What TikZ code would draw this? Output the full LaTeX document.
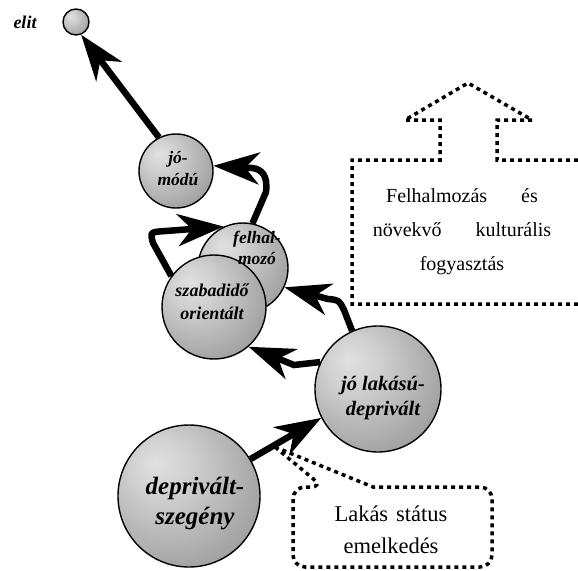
\documentclass[tikz,border=0pt]{standalone}
\usepackage{fontspec}
\setmainfont{Liberation Serif}
\usetikzlibrary{arrows.meta}
\pgfdeclareradialshading{globe}{\pgfpoint{-12bp}{12bp}}{%
  color(0bp)=(black!12); color(10bp)=(black!18); color(70bp)=(black!66)}
\newcommand\ballfont[2]{\fontsize{#1}{#2}\selectfont\bfseries\itshape}
\newcommand\notefont[2]{\fontsize{#1}{#2}\selectfont}
\tikzset{
  sphere/.style={circle, draw=black, line width=1.4pt, shading=globe, inner sep=0pt},
  fat/.style={line width=6.5pt, -{Stealth[length=46pt,width=32pt,inset=14pt]}},
  callout/.style={draw=black, line width=3.5pt, dash pattern=on 4pt off 4pt},
  note/.style={align=center, inner sep=0pt},
}

\begin{document}
\begin{tikzpicture}[x=1pt, y=-1pt, ballname/.style={align=center, inner sep=0pt}]
\useasboundingbox (0,0) rectangle (578,570);

% spheres, back to front
\node[sphere, minimum size=26pt] (elit) at (76,22) {};
\node[sphere, minimum size=74pt] (jomodu) at (176,171) {};
\node[sphere, minimum size=90pt] (felhal) at (243,268) {};
\node[sphere, minimum size=104pt] (szab) at (214,307) {};
\node[sphere, minimum size=126pt] (jolak) at (378,389) {};
\node[sphere, minimum size=142pt] (depriv) at (189,496) {};

% names
\node[ballname, font=\ballfont{18}{20}] (elittext) at (25,22) {elit};
\node[ballname, font=\ballfont{17.5}{22}] (jomodutext) at (178,169) {jó-\\módú};
\node[ballname, font=\ballfont{17.5}{21}] (felhaltext) at (257,248) {felhal-\\mozó};
\node[ballname, font=\ballfont{18}{23}] (szabtext) at (212,302) {szabadidő\\orientált};
\node[ballname, font=\ballfont{20.5}{25}] (jolaktext) at (383,398) {jó lakású-\\deprivált};
\node[ballname, font=\ballfont{25}{30}] (deprivtext) at (195,504) {deprivált-\\szegény};

% moves
\draw[fat] (jomodu.117) -- (elit.-68);
\draw[fat] (felhal.78) -- (266,192) .. controls (268,176) and (262,169) .. (252,168) -- (jomodu.8);
\draw[fat] (szab.144) -- (153,243) .. controls (150,232) .. (166,231) -- (felhal.115);
\draw[fat] (jolak.114) -- (344,310) .. controls (339,300) .. (328,299) -- (felhal.-25);
\draw[fat] (jolak.155) -- (294,365) -- (szab.-49);
\draw[fat] (depriv.31) -- (jolak.207);

% callouts
\draw[callout] (578,160) -- (497,160) -- (497,120) -- (532,120) -- (468,83) -- (405,120)
  -- (440,120) -- (440,160) -- (352,160) -- (352,304) -- (578,304);
\node[note, font=\notefont{20}{34}] (felnote) at (462,232)
  {Felhalmozás\hspace{34pt}és\\növekvő\hspace{34pt}kulturális\\fogyasztás};

\coordinate (lakastip) at (275,447);
\draw[callout] (lakastip) -- (373,487) [rounded corners=12pt] -- (492,487) -- (492,567)
  -- (293,567) -- (293,487) -- (323,487) [sharp corners] -- cycle;
\node[note, font=\notefont{22.5}{32}] (lakasnote) at (391,530) {Lakás\hspace{8pt}státus\\emelkedés};
\end{tikzpicture}
\end{document}
